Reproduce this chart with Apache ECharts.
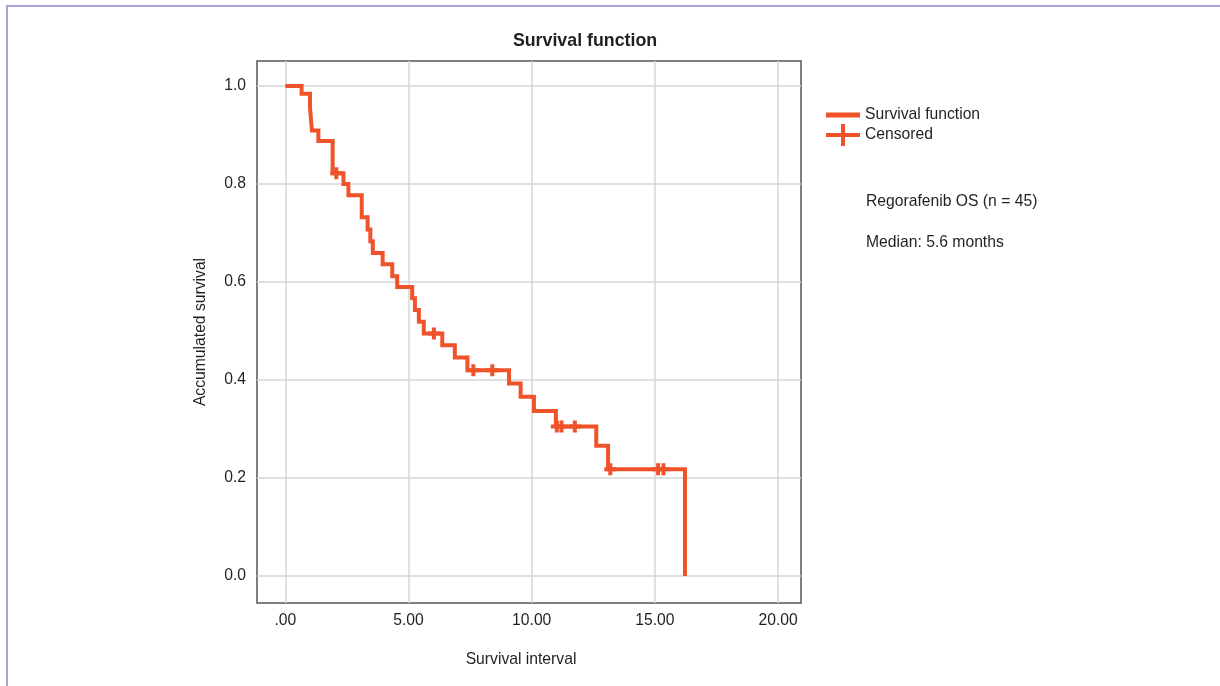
<!DOCTYPE html>
<html>
<head>
<meta charset="utf-8">
<title>Survival function</title>
<script src="https://cdn.jsdelivr.net/npm/echarts@6/dist/echarts.min.js"></script>
<style>
  html, body { margin: 0; padding: 0; background: #fff; }
  #frame { position: absolute; left: 6px; top: 5px; width: 1230px; height: 700px;
           border-left: 2px solid #a6a3d9; border-top: 2px solid #a6a3d9; }
  #chart { position: absolute; left: 0; top: 0; width: 1220px; height: 686px; }
</style>
</head>
<body>
<div id="frame"></div>
<div id="chart"></div>
<script>
// step points of the KM curve (time, survival after the drop)
const eventTimes = [0, 0.66, 1.00, 1.08, 1.34, 1.92, 2.36, 2.56, 3.10, 3.34, 3.45, 3.55, 3.95, 4.34, 4.54,
  5.15, 5.26, 5.42, 5.62, 6.37, 6.88, 7.39, 9.08, 9.55, 10.09, 10.98, 12.62, 13.10, 16.22];
const survival = [1.0, 0.984, 0.957, 0.909, 0.888, 0.822, 0.800, 0.777, 0.732, 0.707, 0.683, 0.659, 0.636, 0.612, 0.590,
  0.567, 0.543, 0.519, 0.495, 0.471, 0.446, 0.420, 0.393, 0.366, 0.337, 0.305, 0.266, 0.218, 0.0];

// censored cases
const censorTimes = [2.07, 6.03, 7.63, 8.40, 11.02, 11.21, 11.75, 13.19, 15.13, 15.35];
const censorSurvival = [0.822, 0.495, 0.420, 0.420, 0.305, 0.305, 0.305, 0.218, 0.218, 0.218];

const xTicks = [0, 5, 10, 15, 20];
const yTicks = [0, 0.2, 0.4, 0.6, 0.8, 1.0];

const red = '#f0522a';
const ink = '#231f20';
const font = '"Liberation Sans", Arial, sans-serif';
const fs = 15.7;
const crossPath = 'path://M4,0H8V12H4ZM0,4H12V8H0Z';
const legendCross = 'path://M15,0H19V22H15ZM0,9H34V13H0Z';

const chart = echarts.init(document.getElementById('chart'));

chart.setOption({
  animation: false,
  textStyle: { fontFamily: font, color: ink },
  title: {
    text: 'Survival function',
    left: 580,
    top: 27,
    textAlign: 'center',
    textStyle: { fontSize: 17.8, fontWeight: 'bold', color: ink, fontFamily: font }
  },
  legend: [
    {
      data: [{ name: 'Survival function', icon: 'rect' }],
      left: 826, top: 107, padding: 0,
      itemWidth: 34, itemHeight: 5,
      textStyle: { fontSize: fs, color: ink, fontFamily: font },
      selectedMode: false
    },
    {
      data: [{ name: 'Censored', icon: legendCross }],
      left: 826, top: 124, padding: 0,
      itemWidth: 34, itemHeight: 22,
      itemStyle: { opacity: 1 },
      textStyle: { fontSize: fs, color: ink, fontFamily: font },
      selectedMode: false
    }
  ],
  grid: {
    left: 257, top: 61, width: 544, height: 542,
    show: true, borderColor: '#555', borderWidth: 1.5, backgroundColor: '#fff'
  },
  xAxis: {
    type: 'value',
    min: -1.15, max: 20.93,
    name: 'Survival interval',
    nameLocation: 'middle',
    nameGap: 49,
    nameTextStyle: { fontSize: fs, color: ink, fontFamily: font, padding: [0, 16, 0, 0] },
    axisLine: { show: false },
    axisTick: { show: false, customValues: xTicks },
    axisLabel: {
      customValues: xTicks, margin: 10, fontSize: fs, color: ink, fontFamily: font,
      formatter: v => (v === 0 ? '.00' : v.toFixed(2))
    },
    splitLine: { show: true, lineStyle: { color: '#d6d6d6', width: 1.5 } }
  },
  yAxis: {
    type: 'value',
    min: -0.055, max: 1.051,
    name: 'Accumulated survival',
    nameLocation: 'middle',
    nameGap: 48,
    nameTextStyle: { fontSize: fs, color: ink, fontFamily: font },
    axisLine: { show: false },
    axisTick: { show: false, customValues: yTicks },
    axisLabel: {
      customValues: yTicks, margin: 11, fontSize: fs, color: ink, fontFamily: font,
      formatter: v => v.toFixed(1)
    },
    splitLine: { show: true, lineStyle: { color: '#d6d6d6', width: 1.5 } }
  },
  graphic: [
    { type: 'text', left: 866, top: 194, style: { text: 'Regorafenib OS (n = 45)', font: fs + 'px ' + font, fill: ink } },
    { type: 'text', left: 866, top: 235, style: { text: 'Median: 5.6 months', font: fs + 'px ' + font, fill: ink } }
  ],
  series: [
    {
      name: 'Survival function',
      type: 'line',
      step: 'end',
      showSymbol: false,
      data: eventTimes.map((t, i) => [t, survival[i]]),
      itemStyle: { color: red },
      lineStyle: { color: red, width: 4, cap: 'butt', join: 'miter' },
      z: 3
    },
    {
      name: 'Censored',
      type: 'scatter',
      symbol: crossPath,
      symbolSize: [12, 12],
      data: censorTimes.map((t, i) => [t, censorSurvival[i]]),
      itemStyle: { color: red, opacity: 1 },
      z: 4
    }
  ]
});
</script>
</body>
</html>
